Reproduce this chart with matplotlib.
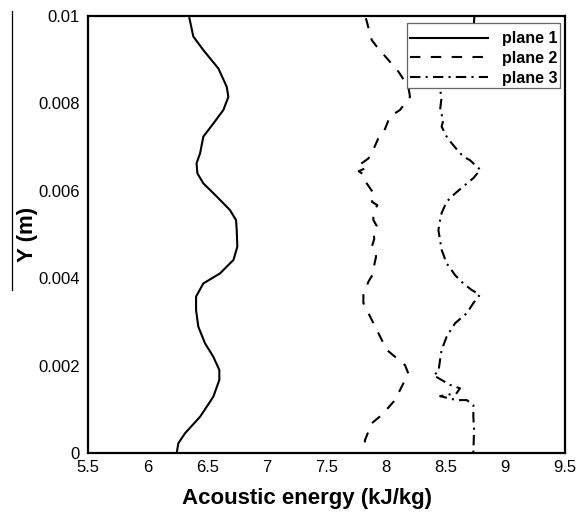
import matplotlib
matplotlib.use("Agg")
import matplotlib.pyplot as plt
from matplotlib.lines import Line2D
from matplotlib.ticker import FuncFormatter

plt.rcParams['font.family'] = ['Liberation Sans', 'DejaVu Sans']

# Acoustic energy profiles along Y for three planes
plane1_y = [0.00995, 0.00989, 0.00953, 0.00922, 0.0088, 0.00838, 0.00815, 0.00785,
            0.00754, 0.00724, 0.00686, 0.00663, 0.0064, 0.00617, 0.00587, 0.00556,
            0.00533, 0.0051, 0.00472, 0.00442, 0.00411, 0.00388, 0.00358, 0.00327,
            0.00289, 0.00251, 0.0022, 0.0019, 0.00167, 0.00129, 0.00083, 0.00045,
            0.00022, 0.0]
plane1_e = [6.35, 6.355, 6.383, 6.467, 6.593, 6.663, 6.677, 6.635,
            6.551, 6.467, 6.44, 6.41, 6.417, 6.467, 6.579, 6.69,
            6.741, 6.747, 6.752, 6.72, 6.607, 6.467, 6.406, 6.406,
            6.425, 6.481, 6.551, 6.601, 6.601, 6.551, 6.44, 6.313,
            6.257, 6.244]

plane2_y = [0.00995, 0.00945, 0.0093, 0.00895, 0.00873, 0.00838, 0.00815, 0.00785,
            0.0077, 0.00732, 0.0072, 0.00686, 0.00674, 0.0066, 0.00652, 0.00645,
            0.00635, 0.00617, 0.006, 0.00587, 0.00575, 0.00567, 0.0055, 0.00533,
            0.0052, 0.0051, 0.0049, 0.00472, 0.00459, 0.00449, 0.0043, 0.00411,
            0.00392, 0.00362, 0.00343, 0.00297, 0.00236, 0.00201, 0.00182, 0.00144,
            0.00121, 0.00087, 0.00068, 0.0003, 0.0]
plane2_e = [7.83, 7.879, 7.921, 8.032, 8.102, 8.186, 8.2, 8.116,
            8.032, 7.976, 7.934, 7.879, 7.851, 7.78, 7.83, 7.77,
            7.82, 7.837, 7.88, 7.907, 7.88, 7.926, 7.89, 7.893,
            7.92, 7.893, 7.90, 7.88, 7.91, 7.915, 7.90, 7.893,
            7.851, 7.809, 7.809, 7.893, 8.005, 8.158, 8.186, 8.116,
            8.074, 7.963, 7.879, 7.823, 7.809]

plane3_y = [0.01, 0.0098, 0.0092, 0.0087, 0.0083, 0.00815, 0.00785, 0.00762,
            0.00747, 0.00724, 0.00709, 0.00686, 0.00674, 0.0067, 0.00648, 0.00629,
            0.00613, 0.00594, 0.00575, 0.00549, 0.00533, 0.0051, 0.00487, 0.00465,
            0.00434, 0.00407, 0.00388, 0.00373, 0.00362, 0.00343, 0.0032, 0.00297,
            0.00266, 0.00236, 0.00213, 0.00186, 0.00178, 0.00156, 0.00148, 0.00137,
            0.0013, 0.00121, 0.00121, 0.0011, 0.00083, 0.00053, 0.0]
plane3_e = [8.74, 8.735, 8.62, 8.5, 8.452, 8.465, 8.452, 8.48,
            8.465, 8.507, 8.549, 8.619, 8.676, 8.703, 8.79, 8.731,
            8.661, 8.578, 8.507, 8.465, 8.452, 8.438, 8.452, 8.465,
            8.507, 8.578, 8.647, 8.717, 8.785, 8.731, 8.676, 8.578,
            8.507, 8.465, 8.452, 8.438, 8.396, 8.535, 8.619, 8.591,
            8.452, 8.591, 8.676, 8.731, 8.731, 8.737, 8.731]

labels = ["plane 1", "plane 2", "plane 3"]
x_ticks = [5.5, 6, 6.5, 7, 7.5, 8, 8.5, 9, 9.5]
y_ticks = [0, 0.002, 0.004, 0.006, 0.008, 0.01]

fig = plt.figure(figsize=(5.76, 5.18), dpi=100)
ax = fig.add_axes([0.1528, 0.1255, 0.8282, 0.8436])

ax.plot(plane1_e, plane1_y, color='black', lw=1.5, ls='-', label=labels[0])
ax.plot(plane2_e, plane2_y, color='black', lw=1.5, dashes=(5, 5), label=labels[1])
ax.plot(plane3_e, plane3_y, color='black', lw=1.5, dashes=(5, 2.5, 1, 2.5), label=labels[2])

ax.set_xlim(5.5, 9.5)
ax.set_ylim(0, 0.01)
ax.set_xticks(x_ticks)
ax.set_yticks(y_ticks)
fmt = FuncFormatter(lambda v, p: f"{v:g}")
ax.xaxis.set_major_formatter(fmt)
ax.yaxis.set_major_formatter(fmt)
ax.tick_params(axis='both', length=0, labelsize=12, colors='black')
ax.tick_params(axis='x', pad=5)
ax.tick_params(axis='y', pad=6)

for s in ax.spines.values():
    s.set_linewidth(1.6)
    s.set_color('black')

ax.set_xlabel("Acoustic energy (kJ/kg)", fontsize=16, fontweight='bold')
ax.set_ylabel("Y (m)", fontsize=16, fontweight='bold')
ax.xaxis.set_label_coords(0.46, -0.08)
ax.yaxis.set_label_coords(-0.105, 0.5)

# a blank, tiny title leaves extra room above the first entry
leg = ax.legend(loc='upper right', bbox_to_anchor=(0.99, 0.984), borderaxespad=0,
                prop={'weight': 'bold', 'size': 11.5}, handlelength=4.9,
                handletextpad=0.9, labelspacing=0.3, borderpad=0.15,
                title=' ', title_fontsize=1.5,
                fancybox=False, framealpha=1, edgecolor='#666666')
leg.get_frame().set_linewidth(0.9)

# thin rule beside the Y-axis title
fig.add_artist(Line2D([0.0208, 0.0208], [0.979, 0.44], color='black', lw=0.9,
                      transform=fig.transFigure))

fig.savefig("out.png", dpi=100)
